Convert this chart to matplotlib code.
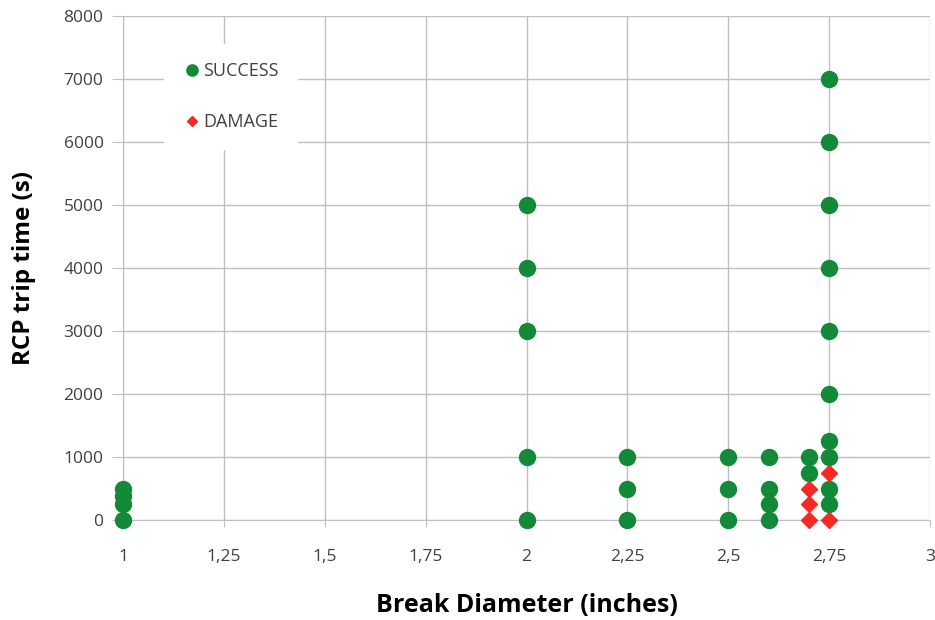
import matplotlib
matplotlib.use("Agg")
import matplotlib.pyplot as plt

# SUCCESS-Punkte (Break Diameter, RCP trip time)
success_x = [1, 1, 1, 1,
             2, 2, 2, 2, 2,
             2.25, 2.25, 2.25,
             2.5, 2.5, 2.5,
             2.6, 2.6, 2.6, 2.6,
             2.7, 2.7,
             2.75, 2.75, 2.75, 2.75, 2.75, 2.75, 2.75, 2.75, 2.75, 2.75]
success_y = [0, 250, 375, 500,
             0, 1000, 3000, 4000, 5000,
             0, 500, 1000,
             0, 500, 1000,
             0, 250, 500, 1000,
             750, 1000,
             250, 500, 1000, 1250, 2000, 3000, 4000, 5000, 6000, 7000]

# DAMAGE-Punkte
damage_x = [2.7, 2.7, 2.7, 2.75, 2.75]
damage_y = [0, 250, 500, 0, 750]

x_ticks = [1, 1.25, 1.5, 1.75, 2, 2.25, 2.5, 2.75, 3]
x_tick_labels = ["1", "1,25", "1,5", "1,75", "2", "2,25", "2,5", "2,75", "3"]
y_ticks = [0, 1000, 2000, 3000, 4000, 5000, 6000, 7000, 8000]

plt.rcParams['font.family'] = ['Open Sans', 'DejaVu Sans']

fig = plt.figure(figsize=(9.35, 6.2), dpi=100)
ax = fig.add_axes([0.1316, 0.1613, 0.8631, 0.8127])

grid_col = '#bfbfbf'
ax.plot(success_x, success_y, linestyle='none', marker='o', markersize=11.5,
        color='#128a38', label='SUCCESS', zorder=3, clip_on=False)
ax.plot(damage_x, damage_y, linestyle='none', marker='D', markersize=8,
        color='#f52a22', label='DAMAGE', zorder=4, clip_on=False)

ax.set_xlim(1, 3)
ax.set_ylim(0, 8000)
ax.set_xticks(x_ticks)
ax.set_xticklabels(x_tick_labels)
ax.set_yticks(y_ticks)

ax.grid(True, color=grid_col, linewidth=1)
ax.set_axisbelow(True)
for side in ['top', 'right']:
    ax.spines[side].set_visible(False)
for side in ['left', 'bottom']:
    ax.spines[side].set_color(grid_col)
ax.tick_params(axis='both', colors=grid_col, labelcolor='#404040', labelsize=12.5)
ax.tick_params(axis='y', length=8, pad=6)
ax.tick_params(axis='x', length=5, pad=16)

ax.set_xlabel('Break Diameter (inches)', fontsize=18, fontweight='bold', labelpad=20)
ax.set_ylabel('RCP trip time (s)', fontsize=17.5, fontweight='bold', labelpad=20)

leg = ax.legend(loc='upper left', bbox_to_anchor=(0.039, 0.962), frameon=True,
                facecolor='white', edgecolor='white', framealpha=1,
                fontsize=13, handletextpad=0.0, handlelength=1.2,
                labelspacing=1.8, borderpad=1.0, markerscale=0.7)
for t in leg.get_texts():
    t.set_color('#404040')

fig.savefig('out.png', dpi=100)
